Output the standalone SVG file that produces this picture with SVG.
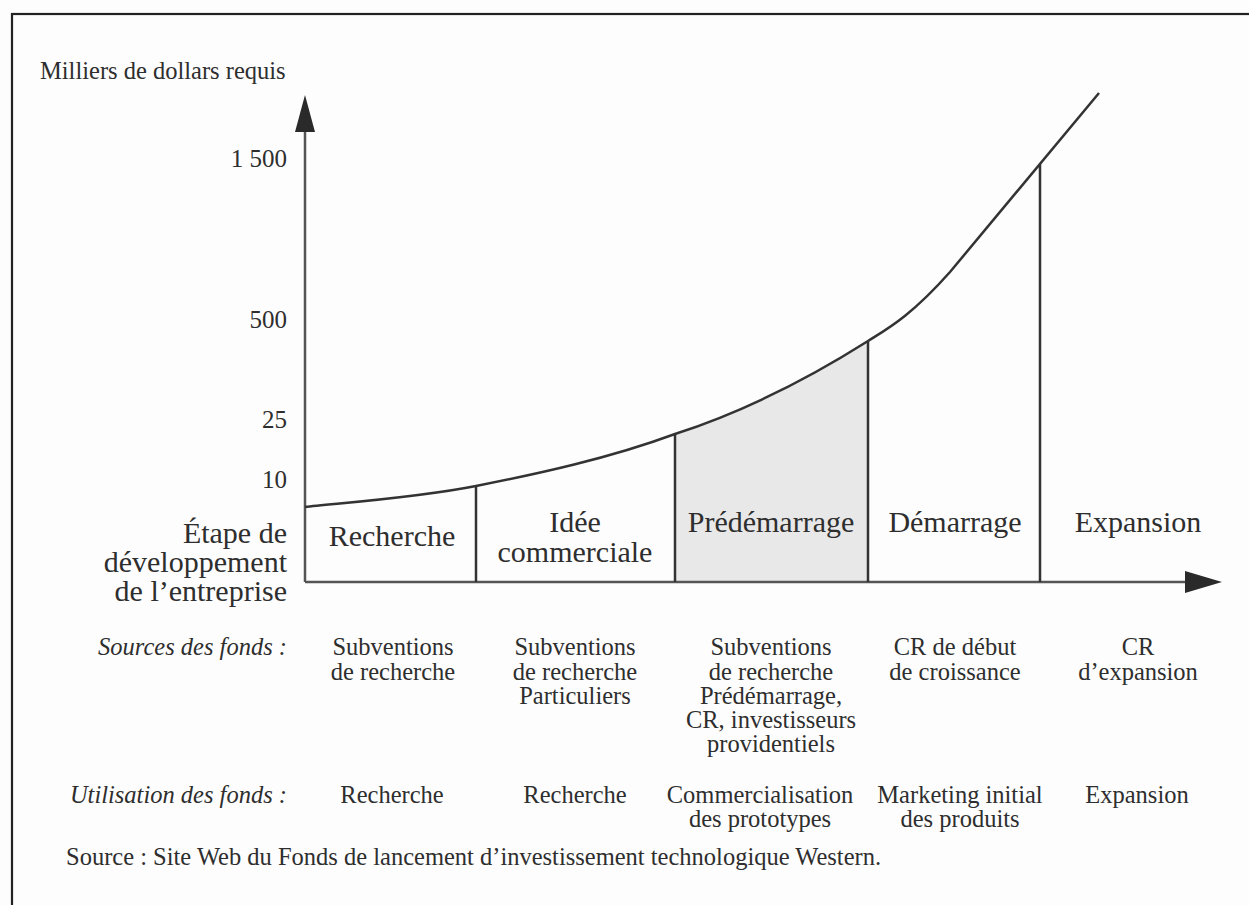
<svg xmlns="http://www.w3.org/2000/svg" width="1249" height="905" viewBox="0 0 1249 905">
  <style>
    text { font-family: "Liberation Serif", "Times New Roman", serif; fill: #2e2e2e; }
    .lbl { font-size: 24.5px; }
    .it { font-size: 24.5px; font-style: italic; text-anchor: end; }
    .num { font-size: 25px; text-anchor: end; }
    .stage { font-size: 30px; text-anchor: middle; }
    .stagehead { font-size: 30px; text-anchor: end; }
    .c { font-size: 24.5px; text-anchor: middle; }
    .sep { stroke: #333; stroke-width: 2.5; fill: none; }
    .axis { stroke: #555; stroke-width: 2.5; fill: none; }
  </style>
  <rect x="0" y="0" width="1249" height="905" fill="#fdfdfd"/>
  <rect id="frame" x="12" y="14" width="1260" height="920" fill="none" stroke="#222" stroke-width="2.2"/>

  <g id="fill-predemarrage">
    <path d="M675,582 L675,434 C740,413 800,384 868,341 L868,582 Z" fill="#e8e8e8"/>
  </g>

  <g id="axes">
    <line class="axis" x1="305" y1="582" x2="305" y2="128"/>
    <polygon points="305,95 295,132 315,132" fill="#2a2a2a"/>
    <line class="axis" x1="305" y1="582" x2="1190" y2="582" stroke="#444"/>
    <polygon points="1222,582 1185,571 1185,593" fill="#2a2a2a"/>
  </g>

  <g id="connectors">
    <path class="sep" d="M305,507 C333.5,503.5 414.3,498.2 476,486 C537.7,473.8 609.7,458.2 675,434 C740,413 800,384 868,341 C887,329 910,317 950,272 L1099,93"/>
    <line class="sep" x1="476" y1="486" x2="476" y2="582"/>
    <line class="sep" x1="675" y1="434" x2="675" y2="582"/>
    <line class="sep" x1="868" y1="341" x2="868" y2="582"/>
    <line class="sep" x1="1040" y1="164" x2="1040" y2="582"/>
  </g>

  <g id="y-labels">
    <text class="lbl" x="40" y="79">Milliers de dollars requis</text>
    <text class="num" x="287" y="167">1 500</text>
    <text class="num" x="287" y="328">500</text>
    <text class="num" x="287" y="428">25</text>
    <text class="num" x="287" y="488">10</text>
  </g>

  <g id="stage-head">
    <text class="stagehead" x="287" y="543">Étape de</text>
    <text class="stagehead" x="287" y="572">développement</text>
    <text class="stagehead" x="287" y="601">de l’entreprise</text>
  </g>

  <g id="stage-recherche"><text class="stage" x="392" y="546">Recherche</text></g>
  <g id="stage-idee"><text class="stage" x="575" y="532">Idée</text><text class="stage" x="575" y="562">commerciale</text></g>
  <g id="stage-predemarrage"><text class="stage" x="771" y="532">Prédémarrage</text></g>
  <g id="stage-demarrage"><text class="stage" x="955" y="532">Démarrage</text></g>
  <g id="stage-expansion"><text class="stage" x="1138" y="532">Expansion</text></g>

  <g id="sources">
    <text class="it" x="287" y="655">Sources des fonds :</text>
    <text class="c" x="393" y="655">Subventions</text>
    <text class="c" x="393" y="680">de recherche</text>
    <text class="c" x="575" y="655">Subventions</text>
    <text class="c" x="575" y="680">de recherche</text>
    <text class="c" x="575" y="704">Particuliers</text>
    <text class="c" x="771" y="655">Subventions</text>
    <text class="c" x="771" y="680">de recherche</text>
    <text class="c" x="771" y="704">Prédémarrage,</text>
    <text class="c" x="771" y="728">CR, investisseurs</text>
    <text class="c" x="771" y="752">providentiels</text>
    <text class="c" x="955" y="655">CR de début</text>
    <text class="c" x="955" y="680">de croissance</text>
    <text class="c" x="1138" y="655">CR</text>
    <text class="c" x="1138" y="680">d’expansion</text>
  </g>

  <g id="utilisation">
    <text class="it" x="287" y="803">Utilisation des fonds :</text>
    <text class="c" x="392" y="803">Recherche</text>
    <text class="c" x="575" y="803">Recherche</text>
    <text class="c" x="760" y="803">Commercialisation</text>
    <text class="c" x="760" y="827">des prototypes</text>
    <text class="c" x="960" y="803">Marketing initial</text>
    <text class="c" x="960" y="827">des produits</text>
    <text class="c" x="1137" y="803">Expansion</text>
  </g>

  <g id="source-note">
    <text class="lbl" x="66" y="865">Source : Site Web du Fonds de lancement d’investissement technologique Western.</text>
  </g>
</svg>
